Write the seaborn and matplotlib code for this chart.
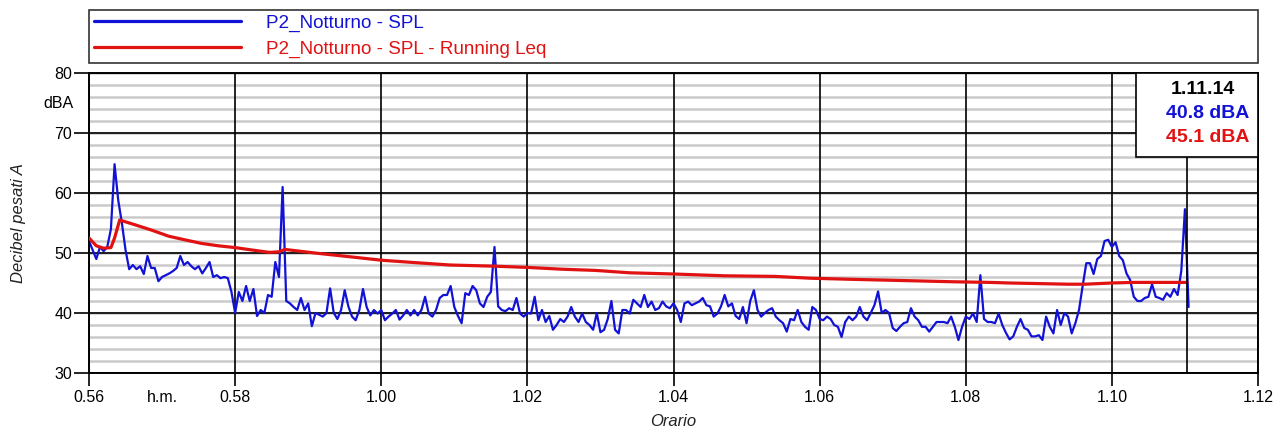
"""
SPL night-time measurement P2 with running Leq
"""

import numpy as np
import pandas as pd
import matplotlib
matplotlib.use("Agg")
import matplotlib.pyplot as plt
from matplotlib.patches import Rectangle
import matplotlib.transforms as mtransforms
import seaborn as sns

# -----------------------------
# Data
# time axis in minutes from 00:56, SPL sampled every 3 s
# -----------------------------
step_min = 0.05
spl_db = [
    52.0, 50.5, 49.0, 51.0, 50.3, 51.0, 54.0, 64.8, 58.8, 55.0,
    50.5, 47.3, 48.0, 47.3, 47.8, 46.5, 49.5, 47.5, 47.5, 45.3,
    46.0, 46.3, 46.6, 47.0, 47.5, 49.5, 48.0, 48.5, 47.8, 47.3,
    47.8, 46.6, 47.5, 48.5, 46.0, 46.3, 45.8, 46.0, 45.8, 43.5,
    40.0, 43.5, 42.0, 44.5, 42.0, 44.0, 39.5, 40.5, 40.0, 43.0,
    42.7, 48.5, 46.0, 61.0, 42.0, 41.6, 41.0, 40.5, 42.5, 40.5,
    41.6, 37.8, 40.0, 39.7, 39.4, 40.0, 44.1, 40.0, 39.0, 40.5,
    43.8, 41.1, 39.4, 38.8, 40.5, 44.0, 41.0, 39.6, 40.5, 39.9,
    40.5, 38.8, 39.4, 39.9, 40.5, 38.9, 39.6, 40.5, 39.6, 40.5,
    39.6, 40.5, 42.7, 39.9, 39.4, 40.5, 42.5, 43.0, 43.0, 44.5,
    41.0, 39.5, 38.3, 43.3, 43.0, 44.5, 43.8, 41.6, 41.0, 42.7,
    43.5, 51.0, 41.1, 40.5, 40.3, 40.8, 40.5, 42.5, 39.9, 39.4,
    40.0, 39.9, 42.7, 38.8, 40.5, 38.5, 39.5, 37.2, 38.0, 39.0,
    38.5, 39.4, 41.0, 39.4, 38.5, 39.9, 38.5, 38.0, 37.2, 40.0,
    36.8, 37.2, 39.0, 42.0, 37.2, 36.6, 40.5, 40.5, 39.9, 42.2,
    41.6, 41.0, 43.0, 41.0, 41.9, 40.5, 40.8, 41.9, 41.1, 40.8,
    41.6, 40.5, 38.5, 41.6, 41.9, 41.3, 41.6, 41.9, 42.5, 41.3,
    41.1, 39.4, 39.9, 41.1, 43.0, 41.1, 41.6, 39.5, 39.0, 41.0,
    38.3, 42.0, 43.8, 40.5, 39.4, 40.0, 40.5, 40.8, 39.4, 38.8,
    38.3, 36.9, 39.0, 38.8, 40.5, 38.5, 37.7, 37.2, 41.0, 40.5,
    39.0, 38.8, 39.4, 39.0, 38.0, 37.7, 36.0, 38.5, 39.4, 38.8,
    39.4, 41.0, 39.4, 38.8, 40.0, 41.3, 43.6, 40.0, 40.5, 40.0,
    37.5, 37.0, 37.7, 38.3, 38.5, 40.8, 39.4, 38.8, 37.7, 37.7,
    36.9, 37.7, 38.5, 38.5, 38.5, 38.3, 39.4, 37.7, 35.5, 37.7,
    39.4, 39.0, 39.9, 38.5, 46.3, 39.0, 38.5, 38.5, 38.3, 39.9,
    38.0, 36.7, 35.6, 36.1, 37.7, 39.0, 37.5, 37.2, 36.1, 36.1,
    36.3, 35.5, 39.4, 37.7, 36.6, 40.5, 38.0, 40.0, 39.4, 36.6,
    38.3, 40.5, 44.5, 48.3, 48.3, 46.5, 49.0, 49.5, 52.0, 52.2,
    51.0, 51.8, 49.5, 48.8, 46.6, 45.5, 42.7, 42.0, 42.0, 42.5,
    42.7, 44.8, 42.7, 42.5, 42.2, 43.3, 42.7, 44.0, 43.0, 47.0,
    57.3, 41.0,
]

leq_min = [0, 0.1, 0.2, 0.3, 0.35, 0.42, 0.63, 0.86, 1.09, 1.31, 1.54, 1.77,
           2.0, 2.23, 2.47, 2.6, 2.68, 3.09, 3.55, 4.0, 4.46, 4.94, 5.56, 6.0,
           6.47, 6.93, 7.4, 8.0, 8.7, 9.39, 9.87, 10.48, 11.17, 11.85, 12.33,
           12.6, 13.4, 13.63, 14.0, 14.3, 15.03]
leq_db = [52.5, 51.2, 50.8, 50.9, 52.5, 55.5, 54.7, 53.8, 52.8, 52.2, 51.6, 51.2,
          50.9, 50.5, 50.1, 50.2, 50.6, 50.0, 49.4, 48.8, 48.4, 48.0, 47.8, 47.6,
          47.3, 47.1, 46.7, 46.5, 46.2, 46.1, 45.8, 45.6, 45.4, 45.2, 45.1,
          45.0, 44.8, 44.8, 45.0, 45.1, 45.1]

tick_min = [0, 2, 4, 6, 8, 10, 12, 14, 16]
tick_labels = ["0.56", "0.58", "1.00", "1.02", "1.04", "1.06", "1.08", "1.10", "1.12"]
y_major = [30, 40, 50, 60, 70, 80]
y_minor = list(range(30, 81, 2))

cursor_min = 15.03
cursor_time = "1.11.14"
cursor_spl = "40.8 dBA"
cursor_leq = "45.1 dBA"

BLUE = "#1212d6"
RED = "#e01212"

# -----------------------------
# Plot
# -----------------------------
sns.set_theme(style="white")
plt.rcParams["font.family"] = ["Liberation Sans", "DejaVu Sans"]

fig = plt.figure(figsize=(12.84, 4.30), dpi=100)
W, H = 1284, 430
ax = fig.add_axes([89 / W, (H - 373) / H, 1169 / W, 300 / H])

# grid drawn by hand so the black lines sit on top of the grey ones
for v in y_minor:
    ax.axhline(v, color="#cacaca", lw=1.8, zorder=0.6)
for v in y_major:
    ax.axhline(v, color="black", lw=1.2, zorder=0.8)
for v in tick_min:
    ax.axvline(v, color="black", lw=1.2, zorder=0.8)

spl = pd.DataFrame({"minute": np.arange(len(spl_db)) * step_min, "db": spl_db})
sns.lineplot(data=spl, x="minute", y="db", color=BLUE, lw=1.6, ax=ax,
             label="P2_Notturno - SPL", zorder=2)
sns.lineplot(x=leq_min, y=leq_db, color=RED, lw=2.3, ax=ax,
             label="P2_Notturno - SPL - Running Leq", zorder=3)

ax.set_xlim(0, 16)
ax.set_ylim(30, 80)
ax.set_xticks(tick_min, tick_labels)
ax.set_yticks(y_major)
ax.grid(False)
ax.tick_params(axis="y", left=True, length=11, width=1.2,
               color="black", labelcolor="black", pad=1, labelsize=11.5)
ax.tick_params(axis="x", bottom=True, length=9, width=1.2,
               color="black", labelcolor="black", pad=3, labelsize=11.5)
for s in ax.spines.values():
    s.set_color("black")
    s.set_linewidth(1.4)

ax.set_xlabel("Orario", style="italic", fontsize=12, color="#222222")
ax.set_ylabel("Decibel pesati A", style="italic", fontsize=12, color="#222222")
ax.xaxis.set_label_coords(0.5, -(414 - 373) / 300)
ax.yaxis.set_label_coords(-(89 - 26) / 1169, 0.5)

# unit label and h.m. marker
ax.text(-15 / 1169, 75, "dBA", transform=mtransforms.blended_transform_factory(ax.transAxes, ax.transData),
        ha="right", va="center", fontsize=11.5, color="black")
ax.text(1, -(390 - 373) / 300, "h.m.", transform=mtransforms.blended_transform_factory(ax.transData, ax.transAxes),
        ha="center", va="top", fontsize=11.5, color="black")

# cursor with read-out box
box_bottom = 66
ax.axvline(cursor_min, ymin=0, ymax=(box_bottom - 30) / 50, color="black", lw=1.2, zorder=4)
ax.add_patch(Rectangle((14.33, box_bottom), 16 - 14.33, 80 - box_bottom, facecolor="white",
                       edgecolor="black", lw=1.2, zorder=5, clip_on=False))
ax.text(15.25, 77.2, cursor_time, ha="center", va="center", fontsize=14, fontweight="bold",
        color="black", zorder=6)
ax.text(15.88, 73.3, cursor_spl, ha="right", va="center", fontsize=14, fontweight="bold",
        color=BLUE, zorder=6)
ax.text(15.88, 69.2, cursor_leq, ha="right", va="center", fontsize=14, fontweight="bold",
        color=RED, zorder=6)

# legend box across the top
leg = ax.legend(loc="upper left", bbox_to_anchor=(89 / W, 1 - 64 / H, 1169 / W, 54 / H),
                bbox_transform=fig.transFigure, mode="expand", ncol=1, fontsize=13.6,
                handlelength=7.8, handletextpad=1.3, labelspacing=0.45, borderpad=0.25,
                borderaxespad=0, frameon=True, fancybox=False, labelcolor="linecolor")
leg.get_frame().set_edgecolor("black")
leg.get_frame().set_linewidth(1.2)
for line in leg.get_lines():
    line.set_linewidth(2.3)

fig.savefig("out.png", dpi=100)
